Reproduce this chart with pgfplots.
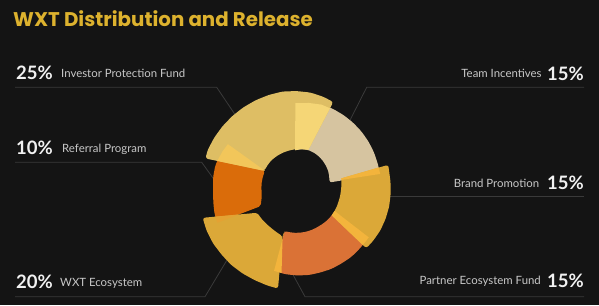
\documentclass[border=0pt]{standalone}
\usepackage{pgfplots}
\pgfplotsset{compat=1.18}
\usepackage{fontspec}
\setmainfont{Lato}
\newfontfamily\titlefont{Poppins}
\definecolor{bgc}{HTML}{141414}
\definecolor{titc}{HTML}{DDB22E}
\definecolor{labc}{HTML}{C8C8C8}
\definecolor{pctc}{HTML}{F2F2F2}
\definecolor{linec}{HTML}{3A3A3A}
\definecolor{invc}{HTML}{DEBE64}
\definecolor{invhi}{HTML}{F5D676}
\definecolor{invhib}{HTML}{F2C65A}
\definecolor{teamc}{HTML}{D6C4A0}
\definecolor{goldc}{HTML}{DBA838}
\definecolor{goldhi}{HTML}{F3B43C}
\definecolor{goldhib}{HTML}{E4A233}
\definecolor{partc}{HTML}{DA7236}
\definecolor{refc}{HTML}{DA6C0A}
\begin{document}
\begin{tikzpicture}
\fill[bgc] (0,0) rectangle (599pt,305pt);
\begin{axis}[at={(0,0)}, anchor=south west, scale only axis,
  width=599pt, height=305pt, xmin=-300, xmax=299, ymin=-114, ymax=191,
  hide axis, clip=false]
% leader lines
\addplot[linec, line width=0.8pt] coordinates {(-285,103.7) (-83.3,103.7) (-64,75)};
\addplot[linec, line width=0.8pt] coordinates {(-285,28.7) (-98.3,28.7) (-82,6)};
\addplot[linec, line width=0.8pt] coordinates {(-285,-105.7) (-95,-105.7) (-70,-64)};
\addplot[linec, line width=0.8pt] coordinates {(284,103.7) (66.7,103.7) (46.7,64.3)};
\addplot[linec, line width=0.8pt] coordinates {(284,-5.7) (80,-5.7)};
\addplot[linec, line width=0.8pt] coordinates {(284,-105.7) (5,-105.7) (-9,-80)};
% Team Incentives 15%
\addplot[data cs=polar, fill=teamc, draw=none, rounded corners=2pt] coordinates {
 (12,82) (20,82.5) (28,83.5) (36,84.5) (44,85.5) (52,86.5) (60,87.5) (68,88.5) (76,89) (84,88.5) (93,88)
 (97,41) (88,42) (80,42) (72,41) (64,40) (56,38.5) (48,37) (40,35.5) (32,34) (24,32) (16,31)} -- cycle;
% Referral Program 10%
\addplot[data cs=polar, fill=refc, draw=none, rounded corners=2pt] coordinates {
 (147,86) (155,87.5) (163,88.5) (171,88) (180,87) (188,87.5) (195,88.5) (201,88.5)
 (201,42) (194,40) (188,38.5) (180,38.5) (172,39) (164,39.5) (156,40) (150,40.5)} -- cycle;
% Partner Ecosystem Fund 15%
\addplot[data cs=polar, fill=partc, draw=none, rounded corners=2pt] coordinates {
 (252,84) (260,84.5) (268,84.5) (276,84.5) (284,84) (292,84) (300,83.5) (308,83.5) (316,83) (326,83)
 (330,40) (322,40) (314,40) (306,40) (298,40) (290,40.5) (282,41) (274,41.5) (266,42) (258,42.5) (249,43)} -- cycle;
% Investor Protection Fund 25%
\addplot[data cs=polar, fill=invc, draw=none, rounded corners=2.5pt] coordinates {
 (69.5,95) (76,97) (84,99) (92,100) (100,101) (108,101) (116,101) (124,101) (132,101) (140,101) (148,101) (156,101) (161,100)
 (150.5,41) (142,41.5) (134,42) (126,42) (118,42) (110,42) (102,42) (94,42) (86,42) (78.5,42)} -- cycle;
% WXT Ecosystem 20%
\addplot[data cs=polar, fill=goldc, draw=none, rounded corners=2.5pt] coordinates {
 (195.4,101) (203,101.5) (211,101.5) (219,101) (227,101) (235,100.5) (243,100) (251,100) (257.3,100)
 (249,48.5) (241,47.5) (233,47) (225,47) (217,47.5) (207,48)} -- cycle;
% Brand Promotion 15%
\addplot[data cs=polar, fill=goldc, draw=none, rounded corners=2.5pt] coordinates {
 (319.2,87.6) (326,88.5) (334,89.5) (342,90) (350,90.5) (358,90.7) (366,91) (374,91.5) (376.5,92)
 (377,43) (369,42) (361,41) (353,40.5) (345,40) (337,40) (329,40) (322.5,40)} -- cycle;
% overlap highlights
\addplot[data cs=polar, fill=invhi, draw=none] coordinates {
 (70.1,88) (76,89) (84,88.5) (93,88) (97,41) (88,42) (78.5,42)} -- cycle;
\addplot[data cs=polar, fill=invhib, draw=none] coordinates {
 (147,86) (153,87) (160,88) (150.5,41) (150,40.5)} -- cycle;
\addplot[data cs=polar, fill=goldhib, draw=none] coordinates {
 (196.9,88.6) (201,88.5) (201,66)} -- cycle;
\addplot[data cs=polar, fill=goldhi, draw=none] coordinates {
 (252,84) (257.3,84) (249,48.5) (249,43)} -- cycle;
\addplot[data cs=polar, fill=goldhi, draw=none] coordinates {
 (319.3,82.8) (326,83) (330,40) (322.5,40)} -- cycle;
\addplot[data cs=polar, fill=goldhi, draw=none] coordinates {
 (12,82) (16.6,82) (17,43) (15,43)} -- cycle;
% texts
\node[anchor=base west, inner sep=0, text=titc] at (axis cs:-287,164.3)
  {\titlefont\bfseries\fontsize{19.8}{22}\selectfont WXT Distribution and Release};
\node[anchor=base west, inner sep=0, text=pctc] at (axis cs:-284,111) {\bfseries\fontsize{18.5}{20}\selectfont 25\%};
\node[anchor=base west, inner sep=0, text=labc] at (axis cs:-239,113.3) {\fontsize{11.4}{14}\selectfont Investor Protection Fund};
\node[anchor=base west, inner sep=0, text=pctc] at (axis cs:-284,36) {\bfseries\fontsize{18.5}{20}\selectfont 10\%};
\node[anchor=base west, inner sep=0, text=labc] at (axis cs:-238,38.3) {\fontsize{11.4}{14}\selectfont Referral Program};
\node[anchor=base west, inner sep=0, text=pctc] at (axis cs:-284,-98) {\bfseries\fontsize{18.5}{20}\selectfont 20\%};
\node[anchor=base west, inner sep=0, text=labc] at (axis cs:-240,-95.7) {\fontsize{11.4}{14}\selectfont WXT Ecosystem};
\node[anchor=base east, inner sep=0, text=pctc] at (axis cs:284,110.3) {\bfseries\fontsize{18.5}{20}\selectfont 15\%};
\node[anchor=base east, inner sep=0, text=labc] at (axis cs:241.7,113.3) {\fontsize{11.4}{14}\selectfont Team Incentives};
\node[anchor=base east, inner sep=0, text=pctc] at (axis cs:284,1) {\bfseries\fontsize{18.5}{20}\selectfont 15\%};
\node[anchor=base east, inner sep=0, text=labc] at (axis cs:239.3,3.7) {\fontsize{11.4}{14}\selectfont Brand Promotion};
\node[anchor=base east, inner sep=0, text=pctc] at (axis cs:284,-96.3) {\bfseries\fontsize{18.5}{20}\selectfont 15\%};
\node[anchor=base east, inner sep=0, text=labc] at (axis cs:241,-94) {\fontsize{11.4}{14}\selectfont Partner Ecosystem Fund};
\end{axis}
\end{tikzpicture}
\end{document}
